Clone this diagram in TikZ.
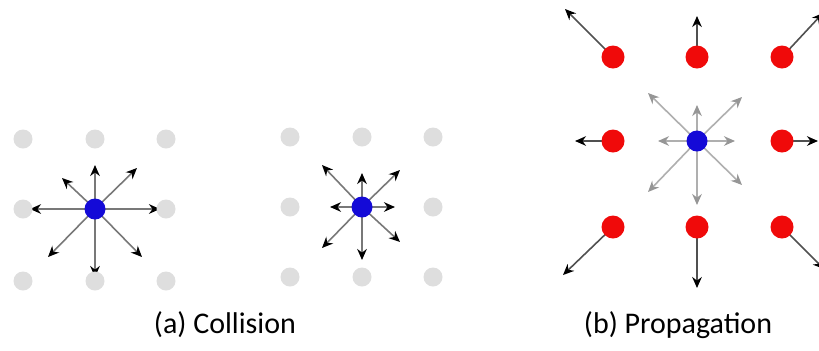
\documentclass[tikz,border=0pt]{standalone}
\usepackage{fontspec}
\setmainfont{Carlito}
\usetikzlibrary{arrows.meta,backgrounds}
\definecolor{dotgrey}{RGB}{222,222,222}
\definecolor{dotblue}{RGB}{20,10,215}
\definecolor{dotred}{RGB}{240,10,10}
\begin{document}
\begin{tikzpicture}[x=0.5pt,y=-0.5pt,
  gdot/.style={circle,fill=dotgrey,minimum size=9.5pt,inner sep=0pt},
  bdot/.style={circle,fill=dotblue,minimum size=10.5pt,inner sep=0pt},
  rdot/.style={circle,fill=dotred,minimum size=11.5pt,inner sep=0pt},
  colarrow/.style={draw={rgb,255:red,120;green,120;blue,120},line width=0.8pt,-{Stealth[length=5.5pt,width=4.8pt,color=black]}},
  proparrow/.style={draw={rgb,255:red,80;green,80;blue,80},line width=0.8pt,-{Stealth[length=5.5pt,width=4.8pt,color=black]}},
  faintarrow/.style={draw={rgb,255:red,175;green,175;blue,175},line width=0.8pt,-{Stealth[length=5.5pt,width=4.8pt,color={rgb,255:red,150;green,150;blue,150}]}},
  caption/.style={font=\fontsize{15}{17}\selectfont,inner sep=0pt}
]
\useasboundingbox (0,0) rectangle (819,350);
\clip (0,0) rectangle (819,350);
% ---------- panel (a) left ----------
\foreach \i/\x in {1/23,2/95,3/166}{
  \foreach \j/\y in {1/139,2/209,3/281}{
    \node[gdot] (a\i\j) at (\x,\y) {};
  }
}
\node[bdot] (ac) at (95,209) {};
\coordinate (aL) at (30,209);
\coordinate (aR) at (160,209);
\coordinate (aU) at (95,165);
\coordinate (aD) at (95,277);
\coordinate (aUL) at (62,178);
\coordinate (aUR) at (137,168);
\coordinate (aDL) at (48,257);
\coordinate (aDR) at (142,257);
% ---------- panel (a) right ----------
\foreach \i/\x in {1/290,2/362,3/433}{
  \foreach \j/\y in {1/137,2/207,3/277}{
    \node[gdot] (b\i\j) at (\x,\y) {};
  }
}
\node[bdot] (bc) at (362,207) {};
\coordinate (bL) at (330,207);
\coordinate (bR) at (395,207);
\coordinate (bU) at (362,173);
\coordinate (bD) at (362,260);
\coordinate (bUL) at (322,165);
\coordinate (bUR) at (400,170);
\coordinate (bDL) at (322,248);
\coordinate (bDR) at (400,242);
% ---------- panel (b) ----------
\node[rdot] (r11) at (613,57) {};
\node[rdot] (r21) at (697,57) {};
\node[rdot] (r31) at (782,57) {};
\node[rdot] (r12) at (613,141) {};
\node[bdot] (pc) at (697,141) {};
\node[rdot] (r32) at (782,141) {};
\node[rdot] (r13) at (613,227) {};
\node[rdot] (r23) at (697,227) {};
\node[rdot] (r33) at (782,227) {};
\coordinate (pL) at (658,141);
\coordinate (pR) at (735,141);
\coordinate (pU) at (697,105);
\coordinate (pD) at (697,205);
\coordinate (pUL) at (648,93);
\coordinate (pUR) at (742,97);
\coordinate (pDL) at (648,192);
\coordinate (pDR) at (742,185);
\coordinate (e11) at (565,9);
\coordinate (e21) at (697,16);
\coordinate (e31) at (823,13);
\coordinate (e12) at (575,141);
\coordinate (e32) at (818,141);
\coordinate (e13) at (563,275);
\coordinate (e23) at (697,288);
\coordinate (e33) at (824,269);
\begin{scope}[on background layer]
  \foreach \d in {L,R,U,D,UL,UR,DL,DR}{
    \draw[colarrow] (ac.center) -- (a\d);
    \draw[colarrow] (bc.center) -- (b\d);
    \draw[faintarrow] (pc.center) -- (p\d);
  }
  \foreach \k in {11,21,31,12,32,13,23,33}{
    \draw[proparrow] (r\k.center) -- (e\k);
  }
\end{scope}
% captions
\node[caption] (capa) at (225,325) {(a) Collision};
\node[caption] (capb) at (678,325) {(b) Propagation};
\end{tikzpicture}
\end{document}
